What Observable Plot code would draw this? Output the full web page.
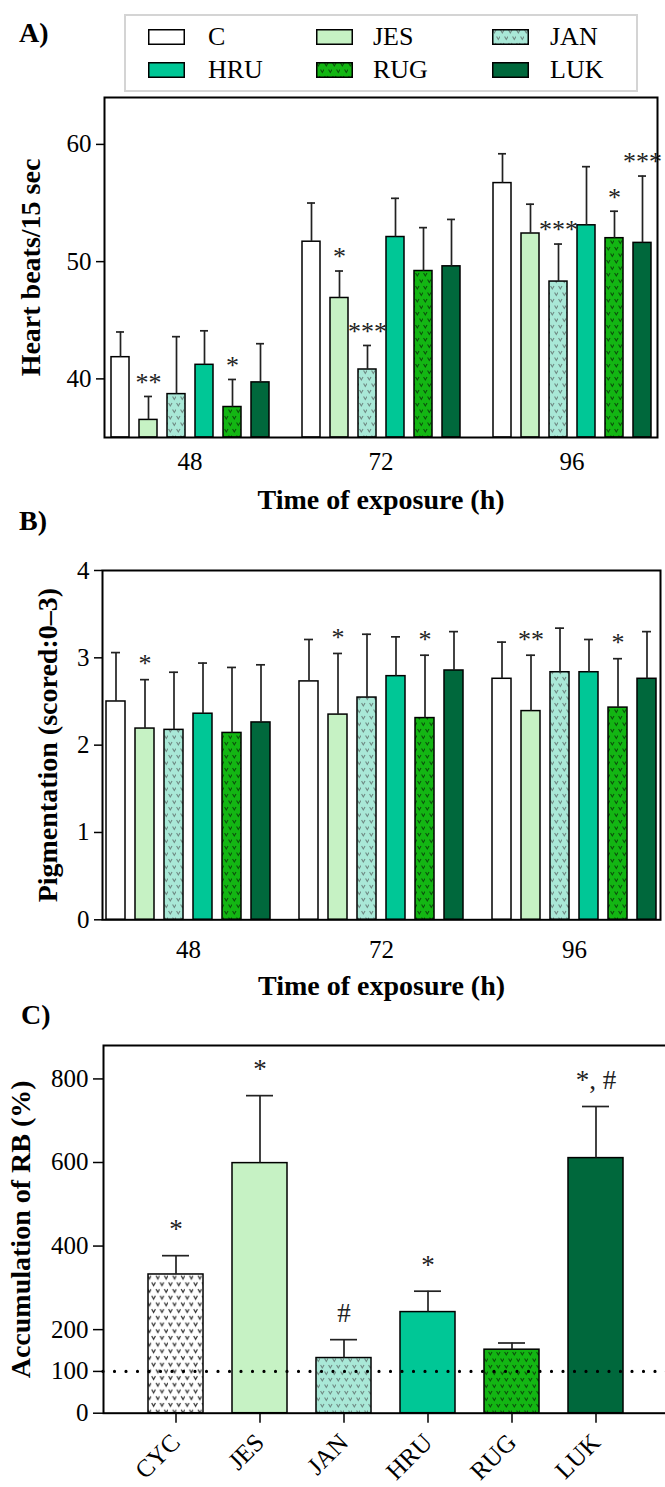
<!DOCTYPE html>
<html><head><meta charset="utf-8">
<script src="https://cdn.jsdelivr.net/npm/d3@7"></script>
<script src="https://cdn.jsdelivr.net/npm/@observablehq/plot@0.6"></script>
<style>
html,body{margin:0;padding:0;background:#fff;overflow:hidden;}
#root{position:relative;width:665px;height:1487px;overflow:hidden;font-family:"Liberation Serif",serif;color:#000;}
.panel{position:absolute;left:0;width:665px;overflow:hidden;}
.panel svg{max-width:none !important;}
.tag{position:absolute;font:bold 28px/28px "Liberation Serif",serif;color:#000;z-index:3;white-space:nowrap;}
.legend{position:absolute;left:124px;top:14px;width:514px;height:78px;box-sizing:border-box;border:2px solid #d4d4d4;background:#fff;z-index:3;}
.lgtext{position:absolute;font:26px/26px "Liberation Serif",serif;color:#000;white-space:nowrap;z-index:4;}
.lgsw{position:absolute;z-index:4;}
g[aria-label="y-axis label"]{font-weight:bold;font-size:28px;}
</style></head><body>
<svg width="0" height="0" style="position:absolute">
  <defs>
    <pattern id="patJAN" width="8" height="13" patternUnits="userSpaceOnUse">
      <rect width="8" height="13" fill="#a9e8d7"/>
      <path d="M0.6,1 L2.3,4 L4,1 M4.6,7.5 L6.3,10.5 L8,7.5" stroke="#6e8882" stroke-width="1.1" fill="none"/>
    </pattern>
    <pattern id="patRUG" width="8" height="13" patternUnits="userSpaceOnUse">
      <rect width="8" height="13" fill="#13b613"/>
      <path d="M0.6,1 L2.3,4 L4,1 M4.6,7.5 L6.3,10.5 L8,7.5" stroke="#0b4f0b" stroke-width="1.1" fill="none"/>
    </pattern>
    <pattern id="patCYC" width="8.4" height="13.4" patternUnits="userSpaceOnUse">
      <rect width="8.4" height="13.4" fill="#ffffff"/>
      <path d="M0.6,1 L2.4,4.2 L4.2,1 M4.8,7.7 L6.6,10.9 L8.4,7.7" stroke="#333" stroke-width="1.2" fill="none"/>
    </pattern>
  </defs>
</svg>
<div id="root"></div>
<script>
// ---------- shared categories ----------
const groups = ["C", "JES", "JAN", "HRU", "RUG", "LUK"];
const times = ["48", "72", "96"];
const fillsAB = ["#ffffff", "#c6f2c4", "url(#patJAN)", "#00c796", "url(#patRUG)", "#00683c"];

// ---------- Panel A: heart beats / 15 sec ----------
const heartMean48 = [41.85, 36.5, 38.7, 41.2, 37.6, 39.7];
const heartMean72 = [51.7, 46.9, 40.8, 52.1, 49.2, 49.6];
const heartMean96 = [56.7, 52.4, 48.3, 53.1, 52.0, 51.6];
const heartErr48 = [44.0, 38.5, 43.6, 44.1, 39.95, 43.0];
const heartErr72 = [55.0, 49.2, 42.85, 55.4, 52.9, 53.6];
const heartErr96 = [59.2, 54.9, 51.5, 58.1, 54.3, 57.3];
const heartSig48 = ["", "**", "", "", "*", ""];
const heartSig72 = ["", "*", "***", "", "", ""];
const heartSig96 = ["", "", "***", "", "*", "***"];
const heartDomain = [35, 64];
const heartTicks = [40, 50, 60];

// ---------- Panel B: pigmentation ----------
const pigMean48 = [2.50, 2.19, 2.175, 2.36, 2.14, 2.26];
const pigMean72 = [2.73, 2.35, 2.545, 2.79, 2.31, 2.855];
const pigMean96 = [2.76, 2.39, 2.835, 2.835, 2.43, 2.76];
const pigErr48 = [3.06, 2.75, 2.835, 2.94, 2.89, 2.92];
const pigErr72 = [3.21, 3.05, 3.27, 3.24, 3.03, 3.30];
const pigErr96 = [3.18, 3.03, 3.34, 3.21, 2.99, 3.30];
const pigSig48 = ["", "*", "", "", "", ""];
const pigSig72 = ["", "*", "", "", "*", ""];
const pigSig96 = ["", "**", "", "", "*", ""];
const pigDomain = [0, 4];
const pigTicks = [0, 1, 2, 3, 4];

// ---------- Panel C: accumulation of RB ----------
const rbCats = ["CYC", "JES", "JAN", "HRU", "RUG", "LUK"];
const rbMean = [332, 598.5, 132, 242, 152, 610.5];
const rbErr = [377, 760, 176, 292, 168, 734];
const rbSig = ["*", "*", "#", "*", "", "*, #"];
const rbFills = ["url(#patCYC)", "#c6f2c4", "url(#patJAN)", "#00c796", "url(#patRUG)", "#00683c"];
const rbDomain = [0, 880];
const rbTicks = [0, 100, 200, 400, 600, 800];
const rbRef = [100];

const xTitle = "Time of exposure (h)";

function tidy(means, errs, sigs) {
  return times.flatMap((t, i) => groups.map((g, j) => ({time: t, group: g, value: means[i][j], err: errs[i][j], sig: sigs[i][j]})));
}
const heartRows = tidy([heartMean48, heartMean72, heartMean96], [heartErr48, heartErr72, heartErr96], [heartSig48, heartSig72, heartSig96]);
const pigRows = tidy([pigMean48, pigMean72, pigMean96], [pigErr48, pigErr72, pigErr96], [pigSig48, pigSig72, pigSig96]);
const rbRows = rbCats.map((c, i) => ({cat: c, value: rbMean[i], err: rbErr[i], sig: rbSig[i]}));

const baseStyle = {fontFamily: '"Liberation Serif", serif', fontSize: "25px", color: "#000", background: "transparent", overflow: "visible", maxWidth: "none"};

function grouped(rows, o, useSuper) {
  const marks = [
    Plot.barY(rows, {fx: "time", x: "group", y1: o.domain[0], y2: "value", fill: "group", stroke: "#000", strokeWidth: 1.5}),
    Plot.ruleX(rows, {fx: "time", x: "group", y1: "value", y2: "err", stroke: "#222", strokeWidth: 1.7}),
    Plot.tickY(rows, {fx: "time", x: "group", y: "err", stroke: "#222", strokeWidth: 1.7, insetLeft: 5, insetRight: 5}),
    Plot.text(rows.filter(d => d.sig), {fx: "time", x: "group", y: "err", text: "sig", lineAnchor: "middle", dy: o.sigDy, fontSize: 26, fill: "#222"}),
    Plot.text([xTitle], {fx: [times[1]], frameAnchor: "bottom", lineAnchor: "top", dy: o.titleDy, fontSize: 28, fontWeight: "bold"}),
    Plot.axisY({ticks: o.ticks, tickFormat: "d", tickSize: 8, tickPadding: 5, strokeWidth: 1.5, label: o.yLabel, labelAnchor: "center", labelOffset: o.yLabelOffset, labelArrow: false}),
    Plot.axisFx({anchor: "bottom", tickSize: 0, tickPadding: o.fxPad, label: null})
  ];
  if (useSuper) marks.push(Plot.frame({facet: "super", strokeWidth: 2}));
  else marks.push(Plot.ruleY(o.domain, {strokeWidth: 2}));
  return Plot.plot({
    width: 700, height: o.height,
    marginLeft: o.ml, marginRight: 700 - o.frameRight, marginTop: o.mt, marginBottom: o.mb,
    style: baseStyle,
    fx: {domain: times, paddingInner: o.fxIn, paddingOuter: o.fxOut, align: 0},
    x: {domain: groups, paddingInner: o.xIn, paddingOuter: o.xOut, axis: null},
    y: {domain: o.domain},
    color: {domain: groups, range: fillsAB},
    marks
  });
}

function safeGrouped(rows, o) {
  try { return grouped(rows, o, true); } catch (e) { console.warn(e); return grouped(rows, o, false); }
}

const root = document.getElementById("root");
function panel(top, height, node) {
  const d = document.createElement("div");
  d.className = "panel";
  d.style.top = top + "px";
  d.style.height = height + "px";
  d.appendChild(node);
  root.appendChild(d);
}
function tag(text, left, top) {
  const d = document.createElement("div");
  d.className = "tag"; d.textContent = text;
  d.style.left = left + "px"; d.style.top = top + "px";
  root.appendChild(d);
}

// Panel A
panel(90, 430, safeGrouped(heartRows, {
  height: 430, ml: 104, mt: 7, mb: 83, frameRight: 690,
  fxIn: 0.103, fxOut: 0.0815, xIn: 0.375, xOut: 0.17,
  domain: heartDomain, ticks: heartTicks, yLabel: "Heart beats/15 sec", yLabelOffset: 84,
  fxPad: 15, sigDy: -14, titleDy: 52
}));

// Panel B
panel(520, 485, safeGrouped(pigRows, {
  height: 485, ml: 102, mt: 50, mb: 85.7, frameRight: 690,
  fxIn: 0.109, fxOut: 0.07, xIn: 0.356, xOut: 0.137,
  domain: pigDomain, ticks: pigTicks, yLabel: "Pigmentation (scored:0–3)", yLabelOffset: 65,
  fxPad: 20, sigDy: -16, titleDy: 55
}));

// Panel C
panel(1000, 487, Plot.plot({
  width: 700, height: 487, marginLeft: 103, marginRight: 32.6, marginTop: 45, marginBottom: 74.3,
  style: baseStyle,
  x: {domain: rbCats, paddingInner: 0.345, paddingOuter: 0.508},
  y: {domain: rbDomain},
  color: {domain: rbCats, range: rbFills},
  marks: [
    Plot.barY(rbRows, {x: "cat", y: "value", fill: "cat", stroke: "#000", strokeWidth: 1.5}),
    Plot.ruleX(rbRows, {x: "cat", y1: "value", y2: "err", stroke: "#222", strokeWidth: 1.7}),
    Plot.tickY(rbRows, {x: "cat", y: "err", stroke: "#222", strokeWidth: 1.7, insetLeft: 14, insetRight: 14}),
    Plot.ruleY(rbRef, {stroke: "#000", strokeWidth: 3.2, strokeDasharray: "0 11.5", strokeLinecap: "round"}),
    Plot.text(rbRows.filter(d => d.sig), {x: "cat", y: "err", text: "sig", lineAnchor: "middle", dy: -26, fontSize: 27, fill: "#222"}),
    Plot.frame({strokeWidth: 2}),
    Plot.axisY({ticks: rbTicks, tickFormat: "d", tickSize: 10, tickPadding: 5, strokeWidth: 1.5, label: "Accumulation of RB (%)", labelAnchor: "center", labelOffset: 93, labelArrow: false}),
    Plot.axisX({tickRotate: -45, tickSize: 10, tickPadding: 15, strokeWidth: 1.5, label: null})
  ]
}));

// Panel tags
tag("A)", 19, 19);
tag("B)", 19, 507);
tag("C)", 21, 1001);

// Legend
const lg = document.createElement("div");
lg.className = "legend";
root.appendChild(lg);
const swLeft = [148, 316, 492], txLeft = [208, 373, 550], swTop = [28.5, 62], txTop = [23.5, 56.5];
groups.forEach((g, i) => {
  const r = Math.floor(i / 3), c = i % 3;
  const sw = document.createElementNS("http://www.w3.org/2000/svg", "svg");
  sw.setAttribute("class", "lgsw"); sw.setAttribute("width", 37); sw.setAttribute("height", 16);
  sw.style.left = swLeft[c] + "px"; sw.style.top = swTop[r] + "px";
  const rect = document.createElementNS("http://www.w3.org/2000/svg", "rect");
  rect.setAttribute("x", 0.75); rect.setAttribute("y", 0.75); rect.setAttribute("width", 35.5); rect.setAttribute("height", 14.5);
  rect.setAttribute("fill", fillsAB[i]); rect.setAttribute("stroke", "#000"); rect.setAttribute("stroke-width", 1.5);
  sw.appendChild(rect);
  root.appendChild(sw);
  const t = document.createElement("div");
  t.className = "lgtext"; t.textContent = g;
  t.style.left = txLeft[c] + "px"; t.style.top = txTop[r] + "px";
  root.appendChild(t);
});
</script>
</body></html>
